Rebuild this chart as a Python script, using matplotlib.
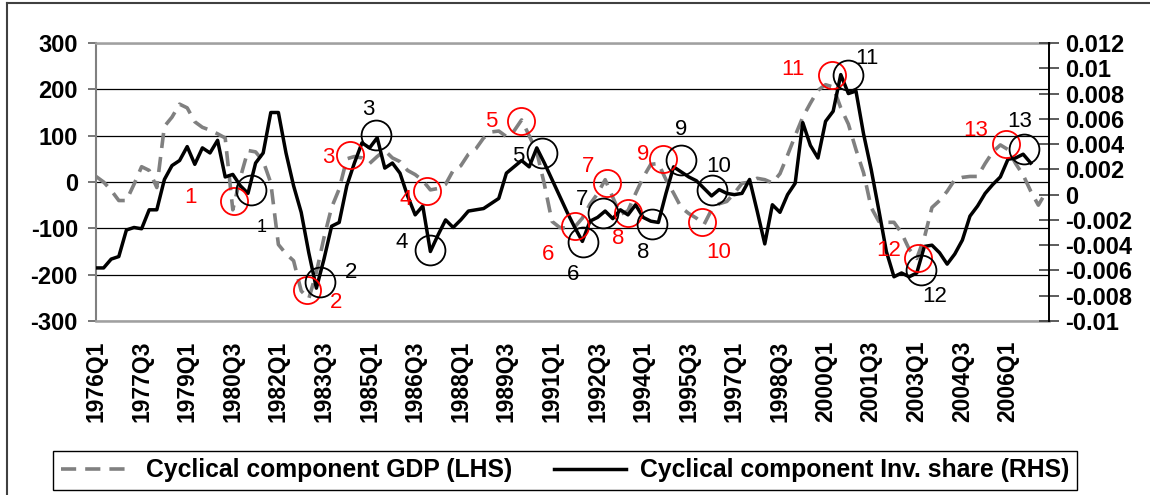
import matplotlib
matplotlib.use("Agg")
import matplotlib.pyplot as plt
from matplotlib.lines import Line2D
from matplotlib.ticker import FixedLocator, FuncFormatter
import numpy as np

plt.rcParams['font.family'] = ['Liberation Sans', 'DejaVu Sans']

# ---------------- data ----------------
quarters = [f"{1976 + k // 4}Q{k % 4 + 1}" for k in range(126)]

gdp = [12, 0, -18, -40, -40, -5, 33, 25, -12, 120,
       140, 168, 160, 130, 118, 112, 104, 95, -60, 10,
       68, 65, 45, -2, -135, -155, -170, -235, -252, -195,
       -120, -55, -15, 50, 55, 52, 40, 55, 68, 52,
       44, 25, 16, 3, -17, -14, -5, 25, 35, 60,
       72, 95, 108, 110, 98, 110, 134, 100, 65, -5,
       -85, -98, -100, -97, -78, -48, -25, 5, -33, -70,
       -62, -25, 10, 38, 40, 5, -24, -55, -68, -78,
       -92, -60, -47, -42, -24, -3, 0, 8, 5, -2,
       18, 58, 100, 140, 170, 198, 210, 205, 160, 125,
       70, 20, -55, -85, -87, -87, -110, -145, -165, -120,
       -55, -40, -20, 5, 10, 12, 12, 40, 65, 80,
       70, 40, 15, -20, -50, -22]

inv_share = [-0.0058, -0.0058, -0.0051, -0.0049, -0.0028, -0.0026, -0.0027, -0.0012, -0.0012, 0.0012,
             0.0023, 0.0027, 0.0038, 0.0024, 0.0037, 0.0033, 0.0043, 0.0014, 0.0016, 0.0007,
             0.0001, 0.0025, 0.0033, 0.0065, 0.0065, 0.0033, 0.0007, -0.0014, -0.0046, -0.0074,
             -0.0051, -0.0025, -0.0022, 0.0007, 0.0025, 0.0041, 0.0037, 0.0045, 0.0021, 0.0025,
             0.0017, -0.0001, -0.0016, -0.0009, -0.0045, -0.0032, -0.0020, -0.0026, -0.0020, -0.0013,
             -0.0012, -0.0011, -0.0007, -0.0003, 0.0017, 0.0022, 0.0027, 0.0022, 0.0037, 0.0025,
             0.0012, -0.0001, -0.0014, -0.0026, -0.0037, -0.0021, -0.0018, -0.0013, -0.0019, -0.0012,
             -0.0016, -0.0008, -0.0018, -0.0021, -0.0022, 0.0001, 0.0022, 0.0018, 0.0014, 0.0011,
             0.0005, -0.0001, 0.0004, 0.0001, 0.0000, 0.0001, 0.0012, -0.0013, -0.0039, -0.0008,
             -0.0014, 0.0000, 0.0009, 0.0057, 0.0039, 0.0029, 0.0058, 0.0066, 0.0095, 0.0080,
             0.0082, 0.0048, 0.0020, -0.0012, -0.0045, -0.0065, -0.0062, -0.0065, -0.0062, -0.0041,
             -0.0040, -0.0046, -0.0055, -0.0047, -0.0036, -0.0017, -0.0009, 0.0001, 0.0008, 0.0014,
             0.0028, 0.0029, 0.0032, 0.0025]

left_ticks = [-300, -200, -100, 0, 100, 200, 300]
right_ticks = [-0.01, -0.008, -0.006, -0.004, -0.002, 0, 0.002, 0.004, 0.006, 0.008, 0.01, 0.012]

# turning-point annotations (x = quarter index, y = LHS units)
red_circle_x = [18.2, 27.7, 33.4, 43.5, 55.9, 63.0, 67.2, 70.0, 74.6, 79.8, 96.8, 108.2, 119.7]
red_circle_y = [-40, -234, 59, -19, 131, -94, -2, -66, 50, -87, 231, -164, 83]
black_circle_x = [20.4, 29.5, 36.8, 43.9, 58.7, 64.1, 66.75, 73.1, 77.0, 81.0, 98.9, 108.6, 122.1]
black_circle_y = [-17, -216, 102, -147, 62, -130, -67, -91, 48, -17, 231, -189, 72]
red_label_x = [12.4, 31.6, 30.6, 40.8, 52.0, 59.5, 64.8, 68.7, 72.0, 81.9, 91.7, 104.3, 115.7]
red_label_y = [-34, -261, 52, -38, 131, -157, 34, -121, 59, -153, 242, -147, 111]
black_label_x = [21.8, 33.6, 35.8, 40.2, 55.6, 62.8, 63.9, 72.0, 77.0, 81.9, 101.4, 110.4, 121.6]
black_label_y = [-99, -196, 156, -131, 55, -200, -38, -153, 113, 34, 267, -247, 131]
turn_labels = [str(k) for k in range(1, 14)]

# ---------------- figure ----------------
W, H = 1150, 495
fig = plt.figure(figsize=(W / 100, H / 100), dpi=100)
L, R, T, B = 96, 1049, 43, 321
ax = fig.add_axes([L / W, 1 - B / H, (R - L) / W, (B - T) / H])
ax2 = ax.twinx()

x = np.arange(len(quarters))
ax.plot(x, gdp, color='#808080', lw=2.6, dashes=(4.2, 2.5), zorder=3)
ax2.plot(np.arange(len(inv_share)), inv_share, color='black', lw=2.5, zorder=3)

ax.set_xlim(0, 125.4)
ax.set_ylim(-300, 300)
ax2.set_ylim(-0.01, 0.012)

ax.yaxis.set_major_locator(FixedLocator(left_ticks))
ax.yaxis.set_major_formatter(FuncFormatter(lambda v, p: f"{v:g}"))
ax2.yaxis.set_major_locator(FixedLocator(right_ticks))
ax2.yaxis.set_major_formatter(FuncFormatter(lambda v, p: f"{v:g}"))

tick_pos = list(range(0, len(quarters), 6))
ax.set_xticks(tick_pos)
ax.set_xticklabels([quarters[k] for k in tick_pos], rotation=90, fontsize=16.5, fontweight='bold')
ax.tick_params(axis='x', length=0, pad=14)
ax.tick_params(axis='y', length=6, width=1.2, color='#606060', labelsize=17, pad=7)
for lab in ax.get_yticklabels():
    lab.set_fontweight('bold')
ax2.tick_params(axis='y', direction='inout', length=15, width=1.2, color='#404040', labelsize=17, pad=4)
for lab in ax2.get_yticklabels():
    lab.set_fontweight('bold')

ax.grid(axis='y', color='black', lw=0.9)
ax.set_axisbelow(True)

for s in ['top', 'bottom']:
    ax.spines[s].set_color('#a0a0a0')
    ax.spines[s].set_linewidth(1.8)
ax.spines['left'].set_color('#808080')
ax.spines['left'].set_linewidth(1.5)
ax.spines['right'].set_visible(False)
for s in ['top', 'bottom', 'left']:
    ax2.spines[s].set_visible(False)
ax2.spines['right'].set_color('black')
ax2.spines['right'].set_linewidth(1.4)

# annotations
ax2.plot(red_circle_x, red_circle_y, 'o', ms=19.5, mfc='none', mec='#ff0000', mew=1.3,
         transform=ax.transData, zorder=5, clip_on=False)
ax2.plot(black_circle_x, black_circle_y, 'o', ms=21.5, mfc='none', mec='black', mew=1.3,
         transform=ax.transData, zorder=5, clip_on=False)
for k, t in enumerate(turn_labels):
    ax2.text(red_label_x[k], red_label_y[k], t, color='#ff0000', fontsize=16,
             ha='center', va='center', transform=ax.transData, zorder=6)
    ax2.text(black_label_x[k], black_label_y[k], t, color='black',
             fontsize=13 if k == 0 else 16,
             ha='center', va='center', transform=ax.transData, zorder=6)

# legend
h1 = Line2D([], [], color='#808080', lw=2.6, dashes=(4.2, 2.5))
h2 = Line2D([], [], color='black', lw=2.5)
leg = fig.legend([h1, h2], ['Cyclical component GDP (LHS)', 'Cyclical component Inv. share (RHS)'],
                 loc='center', bbox_to_anchor=(565 / W, 1 - 470.5 / H), ncol=2,
                 frameon=True, fancybox=False, edgecolor='black', framealpha=1,
                 prop={'size': 17.8, 'weight': 'bold'}, handlelength=2.9,
                 columnspacing=1.7, handletextpad=0.55, borderpad=0.3,
                 borderaxespad=0)
leg.get_frame().set_linewidth(1.0)

# chart-area border (top and left)
fig.add_artist(Line2D([7 / W, 1], [1 - 3 / H, 1 - 3 / H], color='#404040', lw=1.5,
                      transform=fig.transFigure))
fig.add_artist(Line2D([7 / W, 7 / W], [0, 1 - 3 / H], color='#404040', lw=1.5,
                      transform=fig.transFigure))

fig.savefig('out.png', dpi=100)
